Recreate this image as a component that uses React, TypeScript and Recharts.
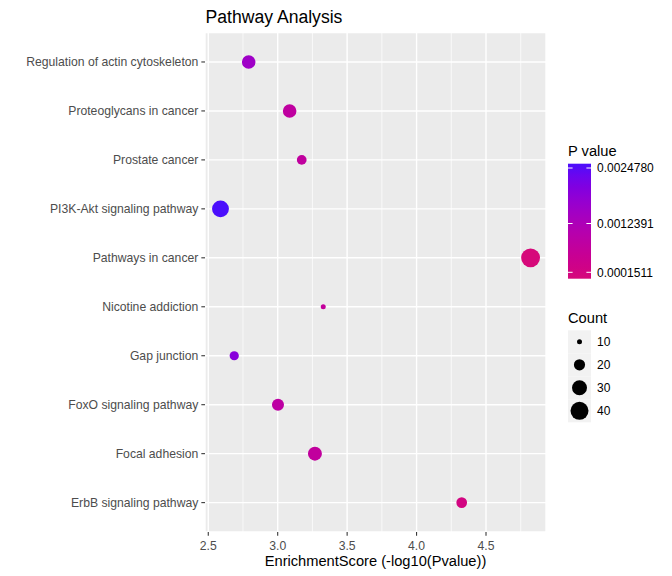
import React from 'react';
import {
  ScatterChart,
  Scatter,
  XAxis,
  YAxis,
  ZAxis,
  CartesianGrid,
  ReferenceLine,
  Cell,
  Label,
} from 'recharts';

// ---------- data ----------
const pathways = [
  'Regulation of actin cytoskeleton',
  'Proteoglycans in cancer',
  'Prostate cancer',
  'PI3K-Akt signaling pathway',
  'Pathways in cancer',
  'Nicotine addiction',
  'Gap junction',
  'FoxO signaling pathway',
  'Focal adhesion',
  'ErbB signaling pathway',
];
const enrichmentScores = [2.791, 3.086, 3.173, 2.588, 4.821, 3.328, 2.687, 3.002, 3.268, 4.325];
const geneCounts = [26, 26, 17, 36, 43, 10, 16, 22, 27, 19];
const pValues = [0.00155, 0.00085, 0.00082, 0.002478, 0.0001511, 0.00075, 0.0019, 0.0009, 0.0008, 0.00028];
const xTicks = [2.5, 3.0, 3.5, 4.0, 4.5];
const xMinorTicks = [2.75, 3.25, 3.75, 4.25, 4.75];
const pValueBreaks = ['0.0024780', '0.0012391', '0.0001511'];
const countBreaks = [10, 20, 30, 40];

// ---------- styling ----------
const FONT = '"Liberation Sans", Arial, Helvetica, sans-serif';
const TICK_FS = 12.2;
const LOW_COLOR = '#D6097A';
const HIGH_COLOR = '#4B0EFC';
const P_MIN = 0.0001511;
const P_MAX = 0.002478;

// Lab interpolation (like ggplot's gradient)
function hexToRgb(h: string) {
  const n = parseInt(h.slice(1), 16);
  return [(n >> 16) & 255, (n >> 8) & 255, n & 255];
}
const toLin = (c: number) => {
  c /= 255;
  return c <= 0.04045 ? c / 12.92 : Math.pow((c + 0.055) / 1.055, 2.4);
};
const fromLin = (c: number) => {
  const v = c <= 0.0031308 ? 12.92 * c : 1.055 * Math.pow(c, 1 / 2.4) - 0.055;
  return Math.round(Math.min(1, Math.max(0, v)) * 255);
};
const Xn = 0.95047, Yn = 1, Zn = 1.08883;
const fLab = (t: number) => (t > 0.008856 ? Math.cbrt(t) : 7.787 * t + 16 / 116);
const fInv = (t: number) => (t > 0.206893 ? t * t * t : (t - 16 / 116) / 7.787);
function rgbToLab(hex: string) {
  const [r, g, b] = hexToRgb(hex).map(toLin);
  const X = 0.4124 * r + 0.3576 * g + 0.1805 * b;
  const Y = 0.2126 * r + 0.7152 * g + 0.0722 * b;
  const Z = 0.0193 * r + 0.1192 * g + 0.9505 * b;
  const fx = fLab(X / Xn), fy = fLab(Y / Yn), fz = fLab(Z / Zn);
  return [116 * fy - 16, 500 * (fx - fy), 200 * (fy - fz)];
}
function labToHex(lab: number[]) {
  const [L, a, b] = lab;
  const fy = (L + 16) / 116, fx = fy + a / 500, fz = fy - b / 200;
  const X = Xn * fInv(fx), Y = Yn * fInv(fy), Z = Zn * fInv(fz);
  const r = 3.2406 * X - 1.5372 * Y - 0.4986 * Z;
  const g = -0.9689 * X + 1.8758 * Y + 0.0415 * Z;
  const bb = 0.0557 * X - 0.204 * Y + 1.057 * Z;
  return '#' + [r, g, bb].map(fromLin).map((v) => v.toString(16).padStart(2, '0')).join('');
}
const LOW_LAB = rgbToLab(LOW_COLOR);
const HIGH_LAB = rgbToLab(HIGH_COLOR);
function colorAt(t: number) {
  return labToHex(LOW_LAB.map((v, i) => v + (HIGH_LAB[i] - v) * t));
}
const pColor = (p: number) => colorAt((p - P_MIN) / (P_MAX - P_MIN));

// size: area linear in count
const Z_DOMAIN = [10, 50];
const areaOf = (c: number) => (Math.PI / 4) * (10 * c - 75);
const Z_RANGE = [areaOf(Z_DOMAIN[0]), areaOf(Z_DOMAIN[1])];
const radiusOf = (c: number) => {
  const a = Z_RANGE[0] + ((c - Z_DOMAIN[0]) / (Z_DOMAIN[1] - Z_DOMAIN[0])) * (Z_RANGE[1] - Z_RANGE[0]);
  return Math.sqrt(a / Math.PI);
};

const data = pathways.map((name, i) => ({
  name,
  pos: pathways.length - i,
  score: enrichmentScores[i],
  count: geneCounts[i],
  p: pValues[i],
}));

const yTicks = pathways.map((_, i) => i + 1);

const YTick = (props: any) => {
  const { x, y, payload } = props;
  return (
    <text x={x} y={y} dy="0.355em" textAnchor="end" fontSize={TICK_FS} fontFamily={FONT} fill="#4D4D4D">
      {pathways[pathways.length - payload.value]}
    </text>
  );
};

export default function App() {
  const barTop = 163.7;
  const barH = 115;
  const barX = 568;
  const barW = 23;
  const tickYs = [168, 223.5, 272.3];
  const keyTop = 330.3;
  const keyH = 23;
  const stops = Array.from({ length: 11 }, (_, k) => k / 10);

  return (
    <div style={{ position: 'absolute', left: 0, top: 0, width: 672, height: 576, background: '#fff', fontFamily: FONT }}>
      <ScatterChart width={672} height={576} margin={{ top: 32.6, right: 126, bottom: 0, left: 0 }}>
        <CartesianGrid fill="#EBEBEB" stroke="#FFFFFF" strokeWidth={1.42} />
        {xMinorTicks.map((v) => (
          <ReferenceLine key={v} x={v} stroke="#FFFFFF" strokeWidth={0.71} />
        ))}
        <XAxis
          type="number"
          dataKey="score"
          domain={[2.4765, 4.932]}
          ticks={xTicks}
          allowDataOverflow
          height={44}
          axisLine={false}
          tickSize={3.67}
          tickMargin={5.5}
          tickLine={{ stroke: '#333333', strokeWidth: 1.07 }}
          tick={{ fill: '#4D4D4D', fontSize: TICK_FS, fontFamily: FONT }}
          tickFormatter={(v: number) => v.toFixed(1)}
        >
          <Label
            value="EnrichmentScore (-log10(Pvalue))"
            position="insideBottom"
            offset={10.5}
            style={{ fill: '#000000', fontSize: 14.67, fontFamily: FONT }}
          />
        </XAxis>
        <YAxis
          type="number"
          dataKey="pos"
          domain={[0.4, 10.6]}
          ticks={yTicks}
          allowDataOverflow
          width={205}
          axisLine={false}
          tickSize={3.67}
          tickMargin={3}
          tickLine={{ stroke: '#333333', strokeWidth: 1.07 }}
          tick={<YTick />}
          interval={0}
        />
        <ZAxis type="number" dataKey="count" domain={Z_DOMAIN} range={Z_RANGE} />
        <Scatter data={data} isAnimationActive={false} shape="circle">
          {data.map((d) => (
            <Cell key={d.name} fill={pColor(d.p)} />
          ))}
        </Scatter>
      </ScatterChart>

      <svg
        width={672}
        height={576}
        style={{ position: 'absolute', left: 0, top: 0, pointerEvents: 'none' }}
      >
        <text x={205.5} y={22.5} fontSize={17.6} fontFamily={FONT} fill="#000">
          Pathway Analysis
        </text>

        {/* P value colourbar */}
        <text x={568} y={155.5} fontSize={14.67} fontFamily={FONT} fill="#000">
          P value
        </text>
        <defs>
          <linearGradient id="pgrad" x1="0" y1="1" x2="0" y2="0">
            {stops.map((t) => (
              <stop key={t} offset={`${t * 100}%`} stopColor={colorAt(t)} />
            ))}
          </linearGradient>
        </defs>
        <rect x={barX} y={barTop} width={barW} height={barH} fill="url(#pgrad)" />
        {pValueBreaks.map((lab, i) => (
          <g key={lab}>
            <line x1={barX} x2={barX + 4.6} y1={tickYs[i]} y2={tickYs[i]} stroke="#fff" strokeWidth={1} />
            <line x1={barX + barW - 4.6} x2={barX + barW} y1={tickYs[i]} y2={tickYs[i]} stroke="#fff" strokeWidth={1} />
            <text x={597} y={tickYs[i]} dy="0.355em" fontSize={12} fontFamily={FONT} fill="#000">
              {lab}
            </text>
          </g>
        ))}

        {/* Count legend */}
        <text x={568} y={322.5} fontSize={14.67} fontFamily={FONT} fill="#000">
          Count
        </text>
        {countBreaks.map((c, i) => {
          const cy = keyTop + keyH * i + keyH / 2;
          return (
            <g key={c}>
              <rect x={568} y={keyTop + keyH * i} width={23} height={keyH} fill="#F2F2F2" />
              <circle cx={568 + 11.5} cy={cy} r={radiusOf(c)} fill="#000" />
              <text x={597} y={cy} dy="0.355em" fontSize={12} fontFamily={FONT} fill="#000">
                {c}
              </text>
            </g>
          );
        })}
      </svg>
    </div>
  );
}
